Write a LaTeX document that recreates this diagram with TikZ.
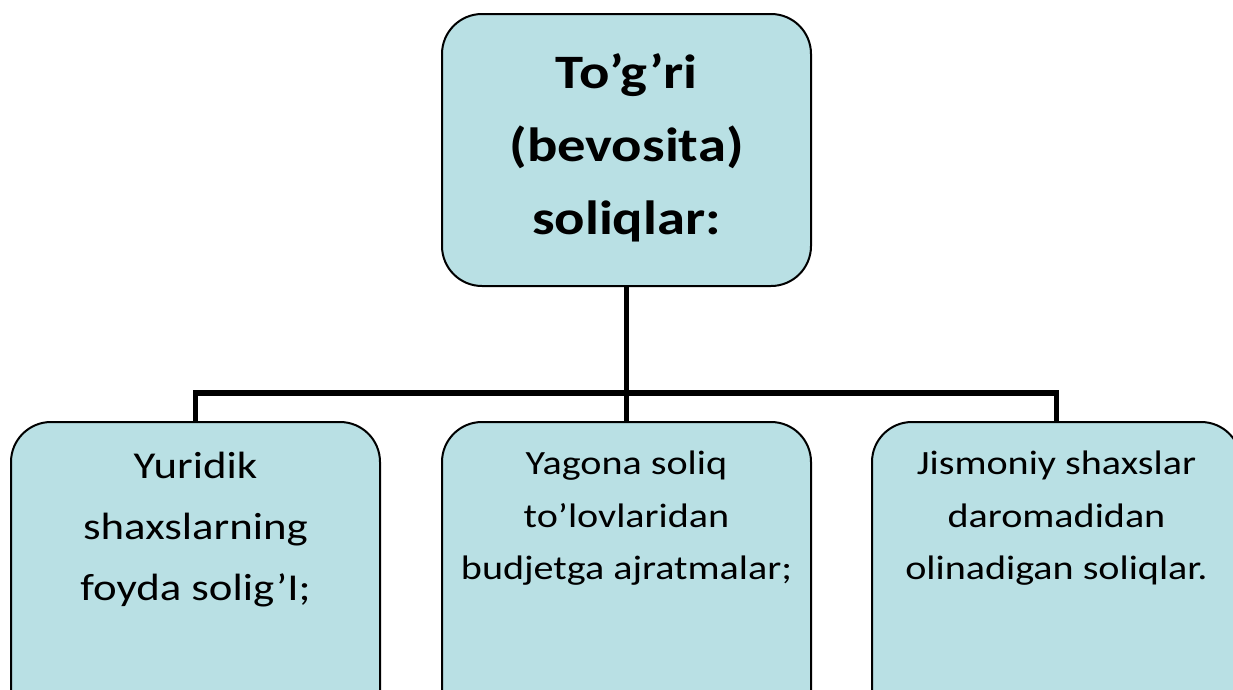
\documentclass[tikz,border=0pt]{standalone}
\usepackage{fontspec}
\setmainfont{Carlito}[FakeStretch=1.18]
\definecolor{boxfill}{RGB}{185,224,228}
\tikzset{
  box/.style={draw=black, line width=2pt, fill=boxfill, rounded corners=40pt,
    minimum width=369pt, inner sep=0pt, outer sep=0pt},
  txt/.style={align=center, inner sep=0pt, text=black},
  conn/.style={draw=black, line width=5.5pt}
}
\begin{document}
\begin{tikzpicture}[x=1pt,y=-1pt]
\useasboundingbox (0,0) rectangle (1233,689);
\clip (0,0) rectangle (1233,689);
% boxes
\node[box, minimum height=272pt] (top) at (626.5,150) {};
\node[box, minimum height=320pt] (left) at (195.5,582) {};
\node[box, minimum height=320pt] (mid) at (626.5,582) {};
\node[box, minimum height=320pt] (right) at (1056.5,582) {};
% connectors
\coordinate (hub) at (top.south |- 0,393);
\draw[conn] (top.south) -- (hub);
\draw[conn, line cap=rect] (left.north |- hub) -- (right.north |- hub);
\draw[conn] (left.north |- hub) -- (left.north);
\draw[conn] (hub) -- (mid.north);
\draw[conn] (right.north |- hub) -- (right.north);
% texts
\node[txt, font=\fontsize{48}{73}\selectfont\bfseries] (ttop) at (626.5,147.5)
  {To’g’ri\\(bevosita)\\soliqlar:};
\node[txt, font=\fontsize{38}{61}\selectfont] (tleft) at (195.5,530)
  {Yuridik\\shaxslarning\\foyda solig’I;};
\node[txt, font=\fontsize{34}{52.5}\selectfont] (tmid) at (626.5,518.5)
  {Yagona soliq\\to’lovlaridan\\budjetga ajratmalar;};
\node[txt, font=\fontsize{34}{52.5}\selectfont] (tright) at (1056.5,518.5)
  {Jismoniy shaxslar\\daromadidan\\olinadigan soliqlar.};
\end{tikzpicture}
\end{document}
